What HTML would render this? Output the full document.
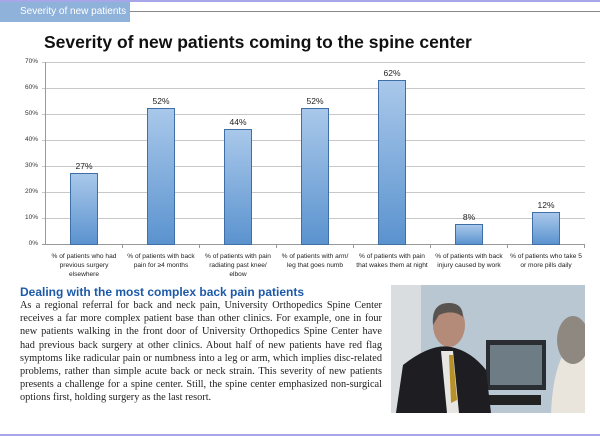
<!DOCTYPE html>
<html><head><style>
body{margin:0;width:600px;height:436px;background:#fff;position:relative;overflow:hidden;font-family:"Liberation Sans",sans-serif}
.abs{position:absolute}
.lbl{position:absolute;width:74px;padding:0 2px;text-align:center;font-size:6.6px;line-height:9px;color:#222;top:252px}
.ytick{position:absolute;left:14px;width:24px;text-align:right;font-size:6.5px;color:#333}
.val{position:absolute;width:40px;text-align:center;font-size:8.5px;color:#222}
.bar{position:absolute;width:28px;background:linear-gradient(#a9c8ea,#5b93cf);border:1px solid #3f6fa6;box-sizing:border-box}
</style></head><body>
<div class="abs" style="left:0;top:0;width:600px;height:2px;background:#a7a6e8"></div>
<div class="abs" style="left:0;top:2px;width:130px;height:20px;background:#8fb2da"></div>
<div class="abs" style="left:20px;top:6px;font-size:10px;color:#fff">Severity of new patients</div>
<div class="abs" style="left:130px;top:11px;width:470px;height:1px;background:#888"></div>
<div class="abs" style="left:44px;top:32px;font-size:17.5px;font-weight:bold;color:#111">Severity of new patients coming to the spine center</div>
<svg class="abs" style="left:0;top:0" width="600" height="250">
<g stroke="#c8c8c8" stroke-width="1">
<line x1="42" x2="585" y1="62.5" y2="62.5"/><line x1="42" x2="585" y1="88.5" y2="88.5"/><line x1="42" x2="585" y1="114.5" y2="114.5"/><line x1="42" x2="585" y1="140.5" y2="140.5"/><line x1="42" x2="585" y1="166.5" y2="166.5"/><line x1="42" x2="585" y1="192.5" y2="192.5"/><line x1="42" x2="585" y1="218.5" y2="218.5"/>
</g>
<line x1="42" x2="585" y1="244.5" y2="244.5" stroke="#999"/>
<line x1="45.5" x2="45.5" y1="62" y2="245" stroke="#999"/>
<g stroke="#999"><line x1="122.5" x2="122.5" y1="244" y2="248"/><line x1="199.5" x2="199.5" y1="244" y2="248"/><line x1="276.5" x2="276.5" y1="244" y2="248"/><line x1="353.5" x2="353.5" y1="244" y2="248"/><line x1="430.5" x2="430.5" y1="244" y2="248"/><line x1="507.5" x2="507.5" y1="244" y2="248"/><line x1="584.5" x2="584.5" y1="244" y2="248"/></g>
</svg>
<div class="ytick" style="top:58px">70%</div><div class="ytick" style="top:84px">60%</div><div class="ytick" style="top:110px">50%</div><div class="ytick" style="top:136px">40%</div><div class="ytick" style="top:162px">30%</div><div class="ytick" style="top:188px">20%</div><div class="ytick" style="top:214px">10%</div><div class="ytick" style="top:240px">0%</div>
<div class="bar" style="left:70px;top:173px;height:72px"></div><div class="val" style="left:64px;top:161px">27%</div>
<div class="bar" style="left:147px;top:108px;height:137px"></div><div class="val" style="left:141px;top:96px">52%</div>
<div class="bar" style="left:224px;top:129px;height:116px"></div><div class="val" style="left:218px;top:117px">44%</div>
<div class="bar" style="left:301px;top:108px;height:137px"></div><div class="val" style="left:295px;top:96px">52%</div>
<div class="bar" style="left:378px;top:80px;height:165px"></div><div class="val" style="left:372px;top:68px">62%</div>
<div class="bar" style="left:455px;top:224px;height:21px"></div><div class="val" style="left:449px;top:212px">8%</div>
<div class="bar" style="left:532px;top:212px;height:33px"></div><div class="val" style="left:526px;top:200px">12%</div>
<div class="lbl" style="left:45px">% of patients who had previous surgery elsewhere</div>
<div class="lbl" style="left:122px">% of patients with back pain for ≥4 months</div>
<div class="lbl" style="left:199px">% of patients with pain radiating past knee/ elbow</div>
<div class="lbl" style="left:276px">% of patients with arm/ leg that goes numb</div>
<div class="lbl" style="left:353px">% of patients with pain that wakes them at night</div>
<div class="lbl" style="left:430px">% of patients with back injury caused by work</div>
<div class="lbl" style="left:507px">% of patients who take 5 or more pills daily</div>
<div class="abs" style="left:20px;top:285px;font-size:12px;font-weight:bold;color:#1c5aa8">Dealing with the most complex back pain patients</div>
<div class="abs" style="left:20px;top:299px;width:362px;font-family:'Liberation Serif',serif;font-size:10.3px;line-height:13.2px;color:#222;text-align:justify">As a regional referral for back and neck pain, University Orthopedics Spine Center receives a far more complex patient base than other clinics. For example, one in four new patients walking in the front door of University Orthopedics Spine Center have had previous back surgery at other clinics. About half of new patients have red flag symptoms like radicular pain or numbness into a leg or arm, which implies disc-related problems, rather than simple acute back or neck strain. This severity of new patients presents a challenge for a spine center. Still, the spine center emphasized non-surgical options first, holding surgery as the last resort.</div>
<svg class="abs" style="left:391px;top:285px" width="194" height="128">
<rect width="194" height="128" fill="#b9c7d2"/>
<rect x="0" width="30" height="128" fill="#d9dde0"/>
<rect x="95" y="55" width="60" height="50" fill="#2a2e33"/>
<rect x="99" y="60" width="52" height="40" fill="#6d7c85"/>
<rect x="90" y="110" width="60" height="10" fill="#222"/>
<ellipse cx="58" cy="40" rx="16" ry="22" fill="#b48a78"/>
<path d="M58 18 q-18 0 -16 22 l6 -10 q14 -6 24 2 q0 -14 -14 -14z" fill="#5a5450"/>
<path d="M5 128 L12 80 Q40 58 60 62 Q80 66 95 85 L100 128z" fill="#1d1d22"/>
<path d="M50 66 L62 66 L68 128 L56 128z" fill="#e8e6e2"/>
<path d="M58 70 L62 70 L66 115 L60 118z" fill="#b8902a"/>
<path d="M160 128 Q162 80 178 60 Q194 50 194 50 L194 128z" fill="#e9e4dc"/>
<ellipse cx="182" cy="55" rx="16" ry="24" fill="#8e8880"/>
</svg>
<div class="abs" style="left:0;top:434px;width:600px;height:2px;background:#a7a6e8"></div>
</body></html>
